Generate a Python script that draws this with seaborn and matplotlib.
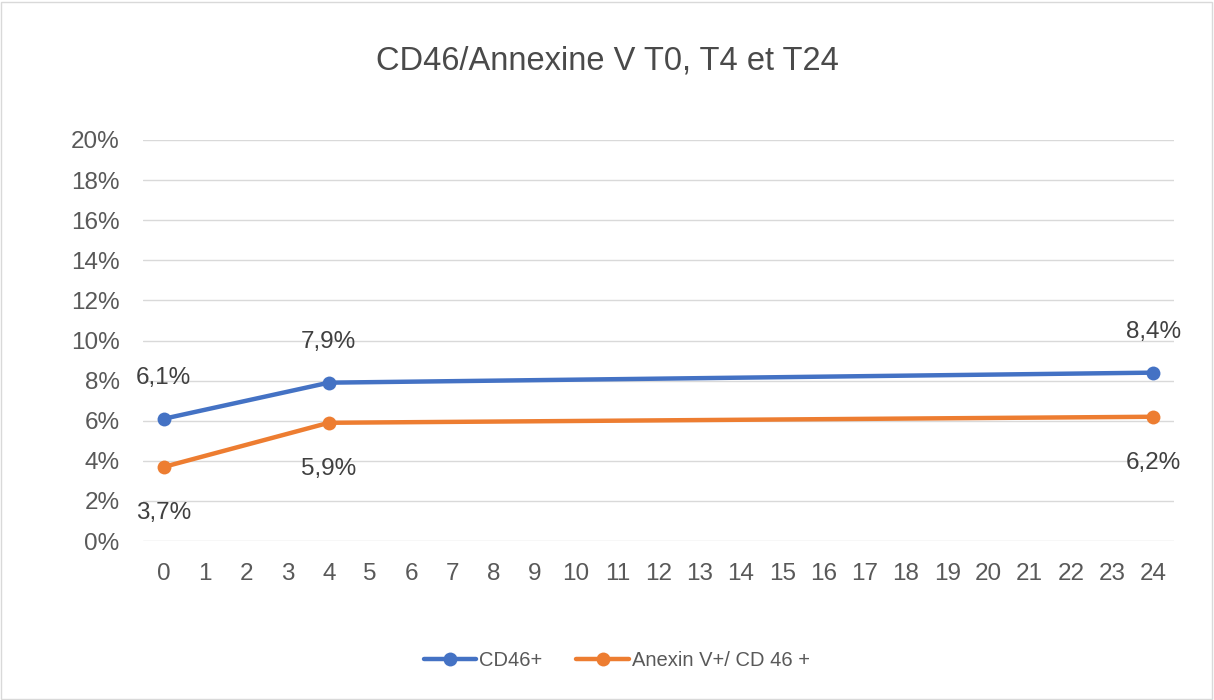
import pandas as pd
import matplotlib.pyplot as plt
import matplotlib.patches as mpatches
import seaborn as sns
from matplotlib.ticker import FuncFormatter, MultipleLocator

# data
hours = [0, 4, 24]
cd46 = [6.1, 7.9, 8.4]
annexin = [3.7, 5.9, 6.2]
series_names = ["CD46+", "Anexin V+/ CD 46 +"]
colors = ["#4472C4", "#ED7D31"]

df = pd.DataFrame({
    "heure": hours * 2,
    "valeur": cd46 + annexin,
    "serie": [series_names[0]] * 3 + [series_names[1]] * 3,
})

sns.set_theme(style="white")
plt.rcParams["font.family"] = ["Liberation Sans", "DejaVu Sans"]

fig = plt.figure(figsize=(12.14, 7), dpi=100)
ax = fig.add_axes([0.118, 0.227, 0.849, 0.573])

sns.lineplot(
    data=df, x="heure", y="valeur", hue="serie", palette=colors,
    marker="o", markersize=10, markeredgewidth=0, linewidth=3.2, ax=ax,
)

# data labels: blue above, orange below
for x, v in zip(hours, cd46):
    ax.annotate(f"{v:.1f}%".replace(".", ","), (x, v), xytext=(0, 29),
                textcoords="offset points", ha="center", va="center",
                fontsize=17.5, color="#404040")
for x, v in zip(hours, annexin):
    ax.annotate(f"{v:.1f}%".replace(".", ","), (x, v), xytext=(0, -33),
                textcoords="offset points", ha="center", va="center",
                fontsize=17.5, color="#404040")

ax.set_xlim(-0.5, 24.5)
ax.set_ylim(0, 20)
ax.xaxis.set_major_locator(MultipleLocator(1))
ax.yaxis.set_major_locator(MultipleLocator(2))
ax.yaxis.set_major_formatter(FuncFormatter(lambda v, p: f"{v:.0f}%"))
ax.grid(axis="y", color="#D9D9D9", linewidth=1)
ax.set_axisbelow(True)
for s in ax.spines.values():
    s.set_visible(False)
ax.tick_params(axis="both", length=0, labelsize=17.5, colors="#595959")
ax.tick_params(axis="x", pad=16)
ax.tick_params(axis="y", pad=17)
ax.set_xlabel("")
ax.set_ylabel("")

fig.suptitle("CD46/Annexine V T0, T4 et T24", y=0.935, fontsize=23.5, color="#4a4a4a")

leg = ax.legend(loc="center", bbox_to_anchor=(0.508, 0.057), bbox_transform=fig.transFigure,
                ncol=2, frameon=False, fontsize=14.5, handlelength=2.6,
                handletextpad=0.15, columnspacing=1.7)
for t in leg.get_texts():
    t.set_color("#595959")

fig.patches.append(mpatches.Rectangle((0.001, 0.002), 0.997, 0.995, transform=fig.transFigure,
                                      fill=False, edgecolor="#D9D9D9", linewidth=1))

fig.savefig("out.png", dpi=100, facecolor="white")
